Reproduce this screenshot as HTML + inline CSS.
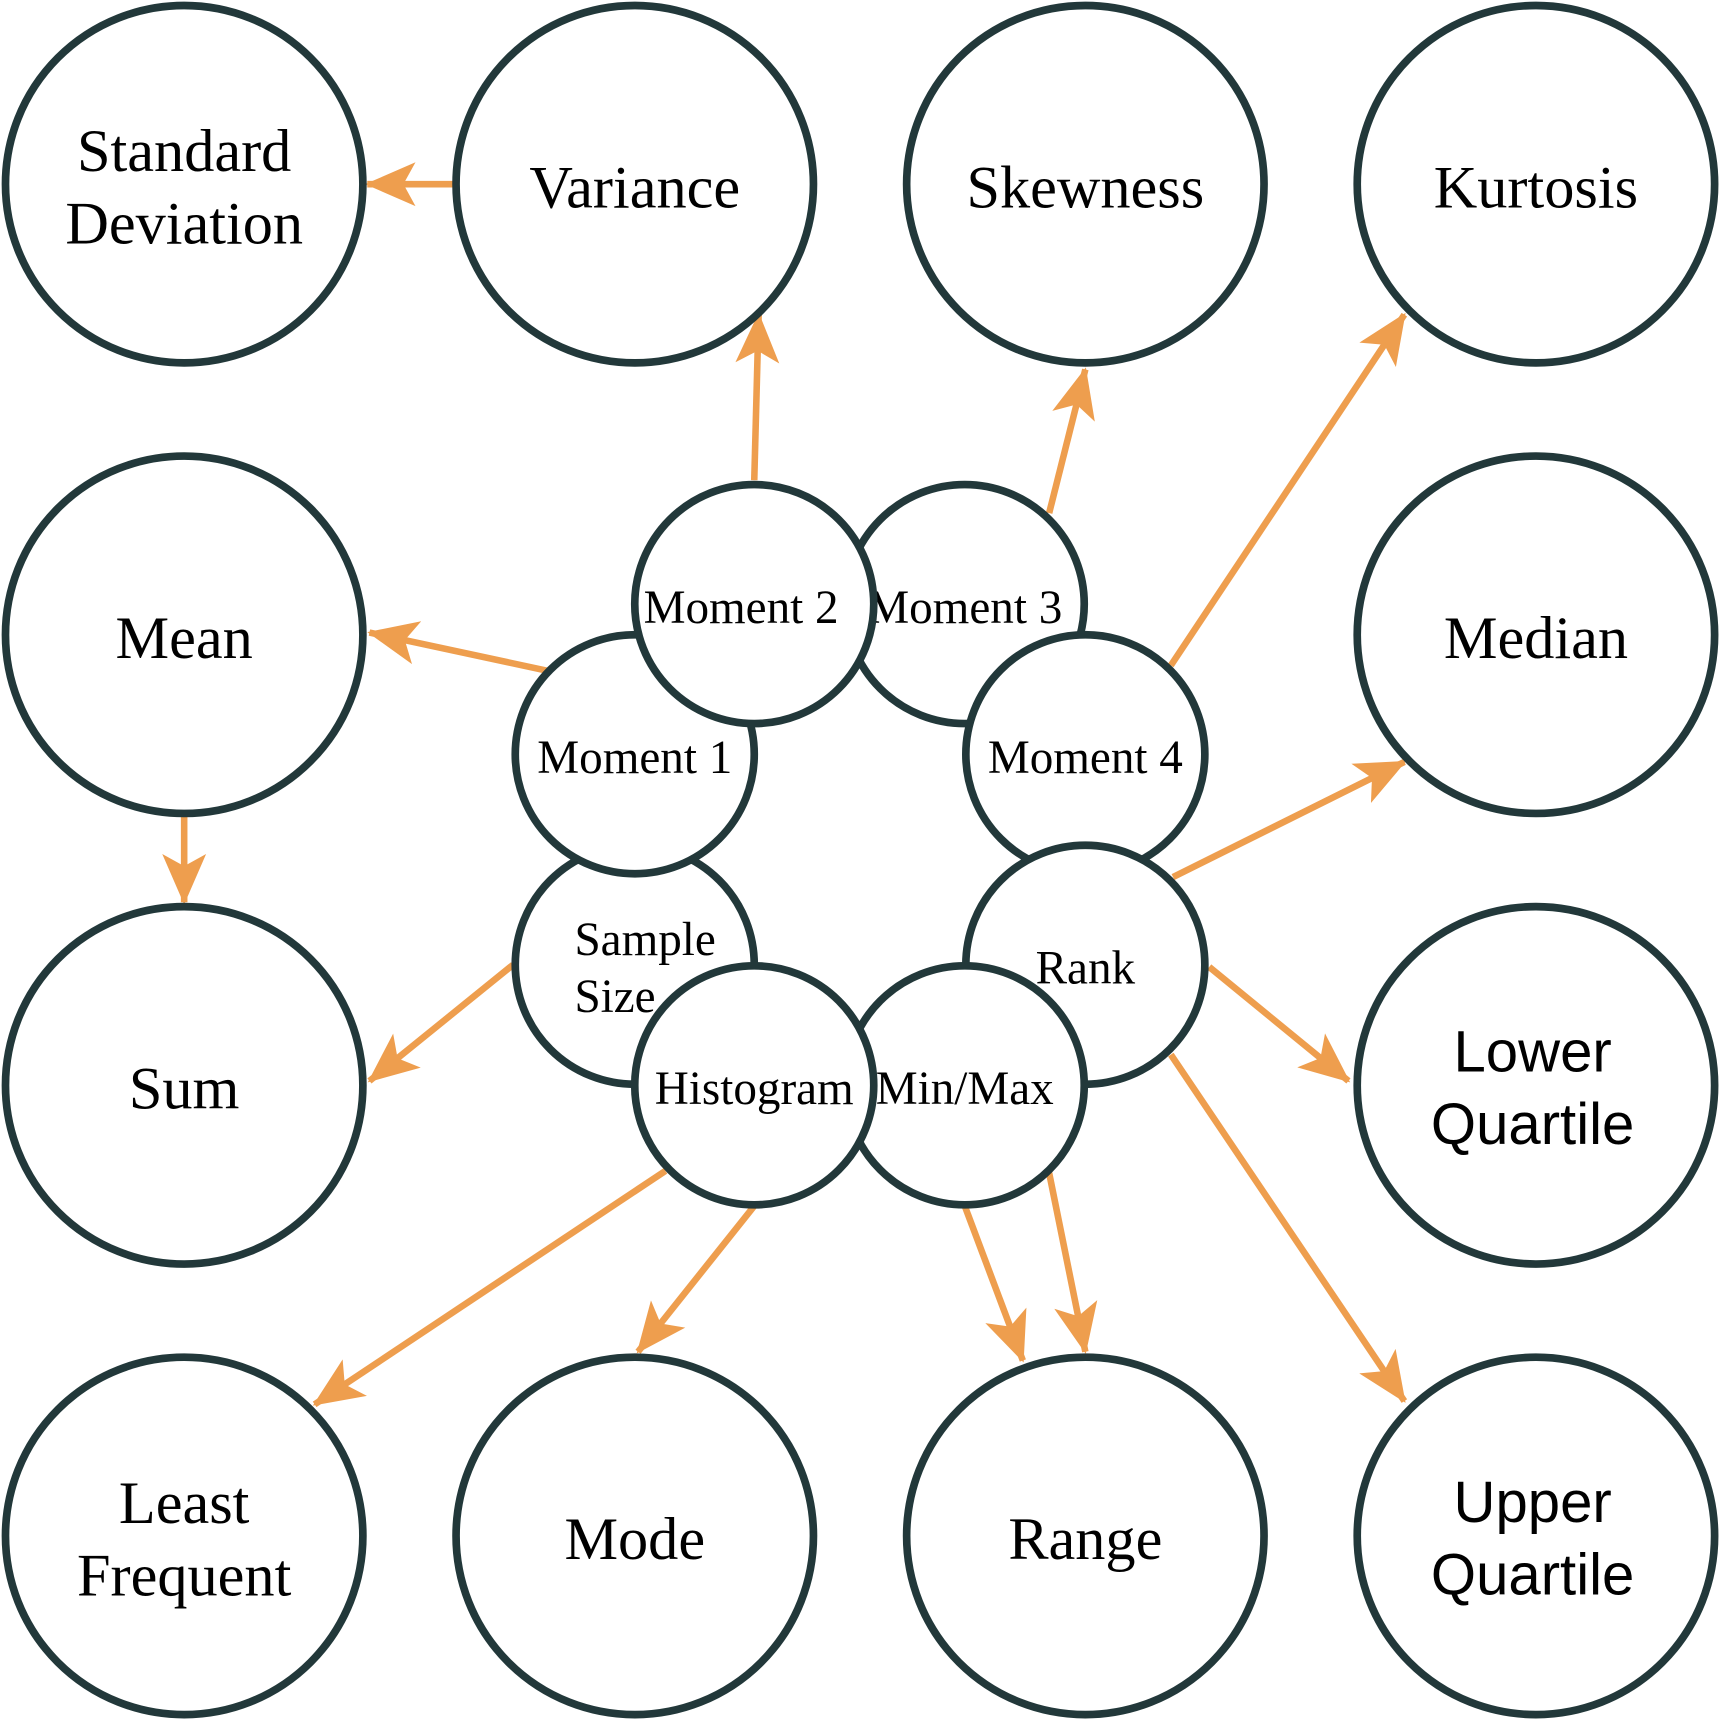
<!DOCTYPE html>
<html><head><meta charset="utf-8"><style>
html,body{margin:0;padding:0;background:#fff;}
svg{display:block;}
</style></head><body>
<svg id="chart" width="1719" height="1719" viewBox="0 0 1568 1568" xmlns="http://www.w3.org/2000/svg">
<defs>
<marker id="ah" markerUnits="userSpaceOnUse" markerWidth="50" markerHeight="50" viewBox="0 0 50 50" refX="44" refY="25" orient="auto">
<path d="M0,5 L46,25 L0,45 L11,25 Z" fill="#ee9e4e"/>
</marker>
</defs>
<g id="edges"></g>
<g id="nodes"></g>
</svg>
<script>
const bigNames=[["Standard","Deviation"],["Variance"],["Skewness"],["Kurtosis"],["Mean"],[],[],["Median"],["Sum"],[],[],["Lower","Quartile"],["Least","Frequent"],["Mode"],["Range"],["Upper","Quartile"]];
const sansBig=["Lower","Upper"];
const smallNames=[["Sample","Size"],["Moment 1"],["Moment 3"],["Moment 2"],["Moment 4"],["Rank"],["Min/Max"],["Histogram"]];
const smallX=[579,579,880,688,990,990,880,688];
const smallY=[880,688,551,551,688,880,990,990];
const edgeFrom=[[413,168],[688,438],[957,468],[1068,607],[500,612],[168,745],[468,880],[1070,800],[1103,882],[1068,962],[880,1100],[957,1070],[688,1100],[607,1068]];
const edgeTo=[[335,168],[692,287],[990,337],[1281,287],[337,577],[168,823],[337,986],[1281,695],[1230,986],[1281,1278],[933,1241],[990,1233],[582,1233],[287,1281]];
const NS="http://www.w3.org/2000/svg";
const gE=document.getElementById('edges'),gN=document.getElementById('nodes');
edgeFrom.forEach((f,i)=>{
 const l=document.createElementNS(NS,'line');
 
 
 l.setAttribute('x1',f[0]);l.setAttribute('y1',f[1]);l.setAttribute('x2',edgeTo[i][0]);l.setAttribute('y2',edgeTo[i][1]);
 l.setAttribute('stroke','#ee9e4e');l.setAttribute('stroke-width','6');l.setAttribute('marker-end','url(#ah)');
 gE.appendChild(l);
});
function node(cx,cy,r,lines,fs,lh,name,sans,tx0,dy,dx){
 const g=document.createElementNS(NS,'g');
 
 
 const c=document.createElementNS(NS,'circle');
 c.setAttribute('cx',cx);c.setAttribute('cy',cy);c.setAttribute('r',r);
 c.setAttribute('fill','#fff');c.setAttribute('stroke','#22383a');c.setAttribute('stroke-width','7');
 g.appendChild(c);
 const n=lines.length;
 lines.forEach((t,k)=>{
  const tx=document.createElementNS(NS,'text');
  tx.setAttribute('x',tx0!=null?tx0:cx+dx);
  tx.setAttribute('y',cy+(k-(n-1)/2)*lh+fs*0.33+dy);
  tx.setAttribute('text-anchor',tx0!=null?'start':'middle');
  tx.setAttribute('font-size',fs);
  tx.setAttribute('font-family',sans?'"Liberation Sans", sans-serif':'"Liberation Serif", serif');
  tx.setAttribute('fill','#000');
  tx.textContent=t;
  g.appendChild(tx);
 });
 gN.appendChild(g);
}
bigNames.forEach((nm,i)=>{
 if(!nm.length)return;
 const cx=168+411*(i%4),cy=168+411*Math.floor(i/4);
 const s=sansBig.includes(nm[0]);
 node(cx,cy,163,nm,s?53:55,66,'node-'+nm.join('-').toLowerCase(),s,null,3,s?-3:0);
});
smallNames.forEach((nm,i)=>{
 const tx0=nm[0]==='Sample'?524:null;
 const dx=nm[0]==='Moment 2'?-12:0;
 node(smallX[i],smallY[i],109,nm,43,52,'node-'+nm.join('-').toLowerCase().replace(/[ \/]/g,'-'),false,tx0,3,dx);
});
</script>
</body></html>
